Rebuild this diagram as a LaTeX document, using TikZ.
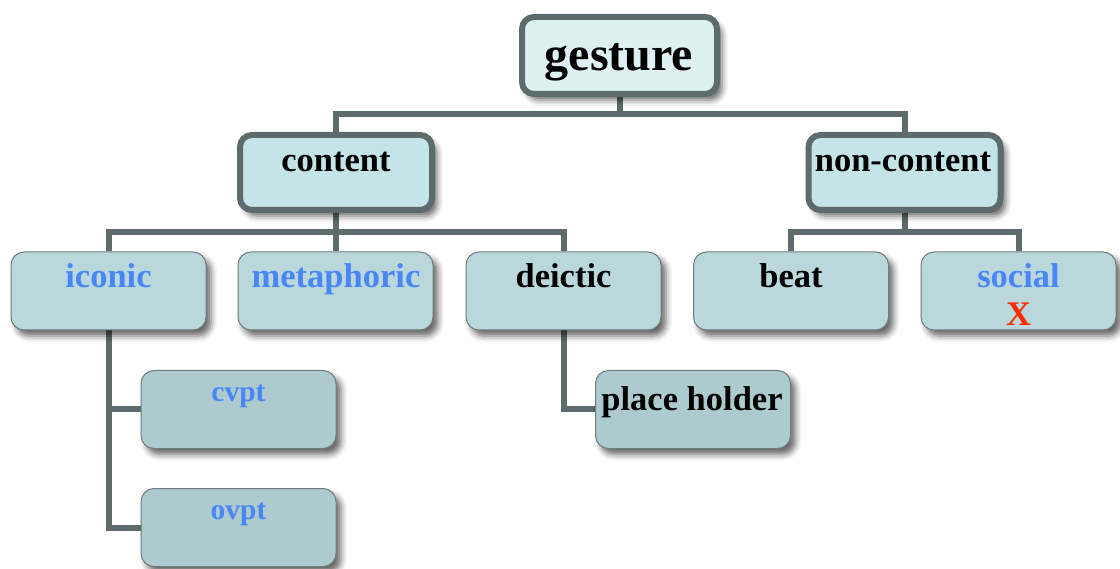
\documentclass[tikz,border=0pt]{standalone}
\usepackage{fontspec}
\setmainfont{Liberation Serif}
\usetikzlibrary{shadows.blur,backgrounds}
\definecolor{edgec}{HTML}{5E6B6D}
\definecolor{thinedge}{HTML}{6E7C7F}
\definecolor{fillA}{HTML}{DFF0F3}
\definecolor{fillB}{HTML}{C4E4E7}
\definecolor{fillC}{HTML}{BAD8DC}
\definecolor{fillD}{HTML}{ADCBCE}
\definecolor{txtblue}{HTML}{4A86F7}
\definecolor{xred}{HTML}{FF2A00}
\tikzset{
  shad/.style={blur shadow={shadow xshift=5pt,shadow yshift=-6pt,shadow blur radius=6pt,shadow opacity=60}},
  thickbox/.style={draw=edgec,line width=6pt,rounded corners=12pt,shad,inner sep=0pt},
  topbox/.style={thickbox,fill=fillA,minimum width=195pt,minimum height=77pt},
  midbox/.style={thickbox,fill=fillB,minimum width=192pt,minimum height=75pt},
  thinbox/.style={draw=thinedge,line width=1pt,rounded corners=13pt,shad,inner sep=0pt,minimum width=195pt,minimum height=78pt},
  lowbox/.style={thinbox,fill=fillC},
  leafbox/.style={thinbox,fill=fillD},
  lbl/.style={anchor=base,inner sep=0pt,font=\fontsize{34.5}{40}\selectfont\bfseries},
  biglbl/.style={anchor=base,inner sep=0pt,font=\fontsize{48}{54}\selectfont\bfseries},
  smalllbl/.style={anchor=base,inner sep=0pt,font=\fontsize{29.5}{34}\selectfont\bfseries},
  conn/.style={draw=edgec,line width=6pt},
}
\begin{document}
\begin{tikzpicture}[x=1pt,y=-1pt]
\useasboundingbox (0,0) rectangle (1120,569);
% boxes
\node[topbox] (gesture) at (619.5,55.5) {};
\node[midbox] (content) at (336,172.5) {};
\node[midbox] (noncontent) at (904.5,172.5) {};
\node[lowbox] (iconic) at (108.5,291) {};
\node[lowbox] (metaphoric) at (335.5,291) {};
\node[lowbox] (deictic) at (563.5,291) {};
\node[lowbox] (beat) at (791,291) {};
\node[lowbox] (social) at (1018.5,291) {};
\node[leafbox] (cvpt) at (238.5,409.5) {};
\node[leafbox] (ovpt) at (238.5,527.5) {};
\node[leafbox] (holder) at (693,409.5) {};
% labels
\node[biglbl] (gesture-t) at (619,71) {gesture};
\node[lbl] (content-t) at (336,172) {content};
\node[lbl] (noncontent-t) at (903,172) {non-content};
\node[lbl,text=txtblue] (iconic-t) at (108.5,288) {iconic};
\node[lbl,text=txtblue] (metaphoric-t) at (336,288) {metaphoric};
\node[lbl] (deictic-t) at (563.5,288) {deictic};
\node[lbl] (beat-t) at (791,288) {beat};
\node[lbl,text=txtblue] (social-t) at (1018.5,288) {social};
\node[lbl,text=xred] (social-x) at (1018.5,326) {X};
\node[smalllbl,text=txtblue] (cvpt-t) at (238.5,402) {cvpt};
\node[smalllbl,text=txtblue] (ovpt-t) at (238.5,519) {ovpt};
\node[lbl] (holder-t) at (692,410) {place holder};
% connectors
\coordinate (barA) at (0,114);
\coordinate (barB) at (0,232);
\begin{scope}[on background layer]
\draw[conn] (gesture.south) -- (gesture.south |- barA);
\draw[conn] (content.north) |- (gesture.south |- barA) -| (noncontent.north);
\draw[conn] (content.south) -- (content.south |- barB);
\draw[conn] (iconic.north) |- (content.south |- barB) -| (deictic.north);
\draw[conn] (content.south |- barB) -- (content.south |- metaphoric.north);
\draw[conn] (noncontent.south) -- (noncontent.south |- barB);
\draw[conn] (beat.north) |- (noncontent.south |- barB) -| (social.north);
\draw[conn] (iconic.south) |- (ovpt.west);
\draw[conn] (cvpt.west) -- (cvpt.west -| iconic.south);
\draw[conn] (deictic.south) |- (holder.west);
\end{scope}
\end{tikzpicture}
\end{document}
